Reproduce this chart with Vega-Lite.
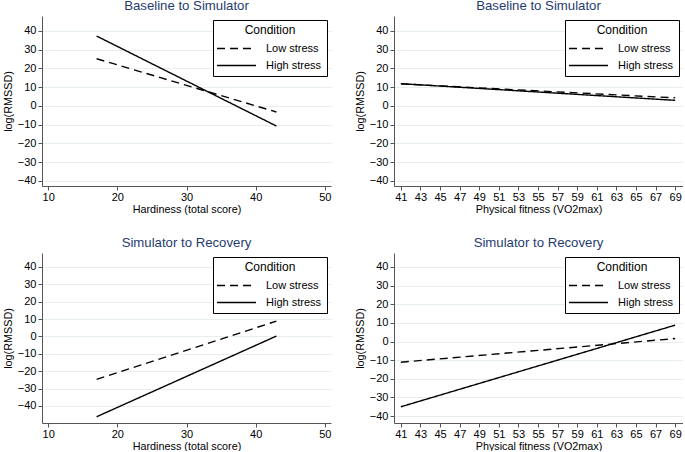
{
  "$schema": "https://vega.github.io/schema/vega-lite/v6.json",
  "padding": {"top": -2, "left": 2, "right": 0, "bottom": 0},
  "background": "white",
  "config": {
    "font": "Liberation Sans",
    "view": {"stroke": null},
    "title": {"fontSize": 13.2, "fontWeight": "normal", "color": "#1f3b6f", "offset": 3},
    "axis": {
      "domainColor": "#555555",
      "tickColor": "#555555",
      "tickSize": 4,
      "labelFontSize": 11,
      "labelColor": "black",
      "titleFontSize": 10.8,
      "titleFontWeight": "normal",
      "titleColor": "black",
      "labelPadding": 2,
      "gridColor": "#e6eef0",
      "gridWidth": 1
    },
    "axisX": {"grid": false, "titlePadding": 1, "labelPadding": 1},
    "axisY": {"titlePadding": 4, "labelPadding": 2},
    "legend": {
      "orient": "top-right",
      "offset": 4,
      "strokeColor": "black",
      "fillColor": "white",
      "padding": 5,
      "titleFontSize": 12,
      "titleFontWeight": "normal",
      "titleColor": "black",
      "titleAnchor": "middle",
      "titlePadding": 4,
      "labelFontSize": 11,
      "labelColor": "black",
      "symbolType": "M-3,0H3",
      "symbolSize": 169,
      "symbolStrokeWidth": 1.4,
      "symbolStrokeColor": "black",
      "symbolOffset": 11,
      "labelOffset": 22,
      "rowPadding": 4
    }
  },
  "data": {
    "values": [
      {"panel": "HB", "x": 17, "y": 25.2, "condition": "Low stress"},
      {"panel": "HB", "x": 43, "y": -3.2, "condition": "Low stress"},
      {"panel": "HB", "x": 17, "y": 37.3, "condition": "High stress"},
      {"panel": "HB", "x": 43, "y": -10.7, "condition": "High stress"},
      {"panel": "FB", "x": 41, "y": 11.8, "condition": "Low stress"},
      {"panel": "FB", "x": 69, "y": 4.3, "condition": "Low stress"},
      {"panel": "FB", "x": 41, "y": 11.9, "condition": "High stress"},
      {"panel": "FB", "x": 69, "y": 3.0, "condition": "High stress"},
      {"panel": "HR", "x": 17, "y": -24.7, "condition": "Low stress"},
      {"panel": "HR", "x": 43, "y": 8.8, "condition": "Low stress"},
      {"panel": "HR", "x": 17, "y": -46.2, "condition": "High stress"},
      {"panel": "HR", "x": 43, "y": 0.2, "condition": "High stress"},
      {"panel": "FR", "x": 41, "y": -11.1, "condition": "Low stress"},
      {"panel": "FR", "x": 69, "y": 1.6, "condition": "Low stress"},
      {"panel": "FR", "x": 41, "y": -35.0, "condition": "High stress"},
      {"panel": "FR", "x": 69, "y": 8.8, "condition": "High stress"}
    ]
  },
  "spacing": 21,
  "resolve": {"scale": {"strokeDash": "independent"}, "legend": {"strokeDash": "independent"}},
  "vconcat": [
    {
      "spacing": 23,
      "resolve": {"scale": {"strokeDash": "independent"}, "legend": {"strokeDash": "independent"}},
      "hconcat": [
        {
          "title": "Baseline to Simulator",
          "width": 289,
          "height": 170,
          "transform": [{"filter": "datum.panel === 'HB'"}],
          "mark": {"type": "line", "color": "black", "strokeWidth": 1.4},
          "encoding": {
            "x": {"field": "x", "type": "quantitative", "title": "Hardiness (total score)",
              "scale": {"domain": [9.1, 50.9], "nice": false, "zero": false},
              "axis": {"values": [10, 20, 30, 40, 50]}},
            "y": {"field": "y", "type": "quantitative", "title": "log(RMSSD)",
              "scale": {"domain": [-42.7, 48], "nice": false, "zero": false},
              "axis": {"values": [-40, -30, -20, -10, 0, 10, 20, 30, 40]}},
            "strokeDash": {"field": "condition", "type": "nominal", "title": "Condition",
              "scale": {"domain": ["Low stress", "High stress"], "range": [[8, 5], [1, 0]]}}
          }
        },
        {
          "title": "Baseline to Simulator",
          "width": 289,
          "height": 170,
          "transform": [{"filter": "datum.panel === 'FB'"}],
          "mark": {"type": "line", "color": "black", "strokeWidth": 1.4},
          "encoding": {
            "x": {"field": "x", "type": "quantitative", "title": "Physical fitness (VO2max)",
              "scale": {"domain": [40.3, 69.8], "nice": false, "zero": false},
              "axis": {"values": [41, 43, 45, 47, 49, 51, 53, 55, 57, 59, 61, 63, 65, 67, 69]}},
            "y": {"field": "y", "type": "quantitative", "title": "log(RMSSD)",
              "scale": {"domain": [-42.7, 48], "nice": false, "zero": false},
              "axis": {"values": [-40, -30, -20, -10, 0, 10, 20, 30, 40]}},
            "strokeDash": {"field": "condition", "type": "nominal", "title": "Condition",
              "scale": {"domain": ["Low stress", "High stress"], "range": [[8, 5], [1, 0]]}}
          }
        }
      ]
    },
    {
      "spacing": 23,
      "resolve": {"scale": {"strokeDash": "independent"}, "legend": {"strokeDash": "independent"}},
      "hconcat": [
        {
          "title": "Simulator to Recovery",
          "width": 289,
          "height": 170,
          "transform": [{"filter": "datum.panel === 'HR'"}],
          "mark": {"type": "line", "color": "black", "strokeWidth": 1.4},
          "encoding": {
            "x": {"field": "x", "type": "quantitative", "title": "Hardiness (total score)",
              "scale": {"domain": [9.1, 50.9], "nice": false, "zero": false},
              "axis": {"values": [10, 20, 30, 40, 50]}},
            "y": {"field": "y", "type": "quantitative", "title": "log(RMSSD)",
              "scale": {"domain": [-49.8, 48], "nice": false, "zero": false},
              "axis": {"values": [-40, -30, -20, -10, 0, 10, 20, 30, 40]}},
            "strokeDash": {"field": "condition", "type": "nominal", "title": "Condition",
              "scale": {"domain": ["Low stress", "High stress"], "range": [[8, 5], [1, 0]]}}
          }
        },
        {
          "title": "Simulator to Recovery",
          "width": 289,
          "height": 170,
          "transform": [{"filter": "datum.panel === 'FR'"}],
          "mark": {"type": "line", "color": "black", "strokeWidth": 1.4},
          "encoding": {
            "x": {"field": "x", "type": "quantitative", "title": "Physical fitness (VO2max)",
              "scale": {"domain": [40.3, 69.8], "nice": false, "zero": false},
              "axis": {"values": [41, 43, 45, 47, 49, 51, 53, 55, 57, 59, 61, 63, 65, 67, 69]}},
            "y": {"field": "y", "type": "quantitative", "title": "log(RMSSD)",
              "scale": {"domain": [-43.7, 47.5], "nice": false, "zero": false},
              "axis": {"values": [-40, -30, -20, -10, 0, 10, 20, 30, 40]}},
            "strokeDash": {"field": "condition", "type": "nominal", "title": "Condition",
              "scale": {"domain": ["Low stress", "High stress"], "range": [[8, 5], [1, 0]]}}
          }
        }
      ]
    }
  ]
}
